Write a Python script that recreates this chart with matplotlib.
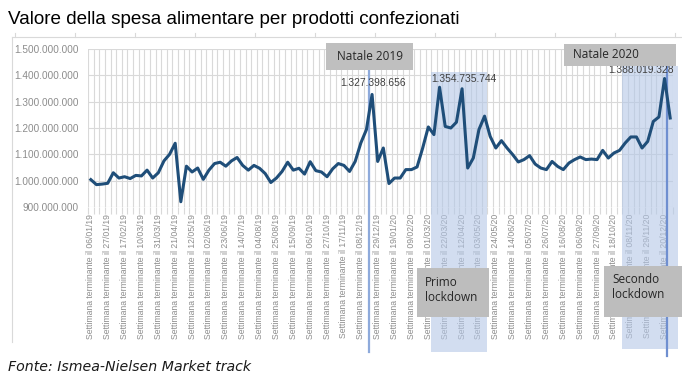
import matplotlib
matplotlib.use('Agg')
import matplotlib.pyplot as plt
import matplotlib.transforms as mtransforms
from matplotlib.patches import Rectangle
from matplotlib.lines import Line2D
from matplotlib.ticker import FuncFormatter, MultipleLocator
import pandas as pd

# weekly values (billions of euro), week ending 06/01/19 ... 27/12/20
weeks = pd.date_range('2019-01-06', periods=104, freq='7D')
values = [
    1.004, 0.985, 0.987, 0.990, 1.030, 1.010, 1.015, 1.008, 1.020, 1.018,
    1.040, 1.010, 1.030, 1.075, 1.100, 1.142, 0.920, 1.055, 1.033, 1.048,
    1.005, 1.040, 1.065, 1.070, 1.055, 1.075, 1.088, 1.058, 1.040, 1.058,
    1.047, 1.027, 0.993, 1.010, 1.035, 1.070, 1.040, 1.047, 1.025, 1.072,
    1.038, 1.033, 1.015, 1.045, 1.065, 1.058, 1.035, 1.073, 1.143, 1.194,
    1.327398656, 1.073, 1.124, 0.989, 1.010, 1.010, 1.042, 1.042, 1.052, 1.124,
    1.204, 1.175, 1.354735744, 1.206, 1.200, 1.222, 1.349, 1.048, 1.086, 1.194,
    1.245, 1.168, 1.124, 1.152, 1.124, 1.099, 1.071, 1.080, 1.095, 1.063,
    1.048, 1.042, 1.073, 1.054, 1.042, 1.067, 1.080, 1.090, 1.080, 1.082,
    1.080, 1.115, 1.086, 1.105, 1.115, 1.143, 1.166, 1.166, 1.124, 1.149,
    1.225, 1.242, 1.388019328, 1.238,
]
values = [v * 1e9 for v in values]
labels = ['Settimana terminante il ' + d.strftime('%d/%m/%y') for d in weeks]

peak_idx = [50, 62, 102]
peak_text = ['1.327.398.656', '1.354.735.744', '1.388.019.328']
peak_offset = [(1, 6), (24, 3), (-24, 3)]

lockdowns = [(60.5, 70.5, 'Primo\nlockdown'), (94.5, 104.3, 'Secondo\nlockdown')]
natale = [(49.5, 'Natale 2019'), (102.4, 'Natale 2020')]

W, H = 682, 381
fig = plt.figure(figsize=(W / 100, H / 100), dpi=100)

def fy(py):
    return 1 - py / H

def fx(px):
    return px / W

ax = fig.add_axes([fx(88), fy(207), 585 / W, 158 / H])
x = list(range(len(values)))
ax.plot(x, values, color='#1f4e79', lw=2.2, zorder=5, solid_joinstyle='round')

ax.set_xlim(-0.5, len(values) - 0.5)
ax.set_ylim(9e8, 1.5e9)
ax.yaxis.set_major_locator(MultipleLocator(1e8))
ax.yaxis.set_major_formatter(FuncFormatter(lambda v, p: f'{int(round(v)):,}'.replace(',', '.')))
ax.set_xticks(x[::3])
ax.set_xticklabels(labels[::3], rotation=90, fontsize=6.2, color='#8c8c8c',
                   family='Liberation Sans')
ax.set_xticks([i - 0.5 for i in range(len(values) + 1)], minor=True)
ax.tick_params(axis='x', which='major', length=0, pad=5)
ax.tick_params(axis='x', which='minor', length=5, color='#d9d9d9', width=0.8)
ax.tick_params(axis='y', length=0, pad=7, labelsize=7.2, labelcolor='#8c8c8c')
for t in ax.get_yticklabels():
    t.set_family('Liberation Sans')
ax.grid(axis='y', color='#d9d9d9', lw=0.8)
ax.grid(axis='x', which='minor', color='#d9d9d9', lw=0.8)
for s in ax.spines.values():
    s.set_visible(False)

blend = mtransforms.blended_transform_factory(ax.transData, fig.transFigure)

# lockdown label boxes (under the shading)
fig.patches.append(Rectangle((fx(417), fy(317)), 72 / W, 49 / H, transform=fig.transFigure,
                             facecolor='#bdbdbd', edgecolor='none', zorder=1))
fig.text(fx(425), fy(290), 'Primo\nlockdown', fontsize=8.5, family='Open Sans',
         color='#262626', va='center', ha='left', linespacing=1.2, zorder=2)
fig.patches.append(Rectangle((fx(604), fy(317)), 78 / W, 51 / H, transform=fig.transFigure,
                             facecolor='#bdbdbd', edgecolor='none', zorder=1))
fig.text(fx(612), fy(287), 'Secondo\nlockdown', fontsize=8.5, family='Open Sans',
         color='#262626', va='center', ha='left', linespacing=1.2, zorder=2)

# shaded lockdown periods
shade_top = [fy(72), fy(66)]
shade_bot = [fy(352), fy(349)]
for (a, b, _), top, bot in zip(lockdowns, shade_top, shade_bot):
    r = Rectangle((a, bot), b - a, top - bot, transform=blend, facecolor='#b4c7e7',
                  alpha=0.6, edgecolor='none', clip_on=False, zorder=3)
    ax.add_patch(r)

# Natale lines and boxes
line_top = [fy(70), fy(66)]
line_bot = [fy(352), fy(356)]
line_col = ['#8eaadb', '#6f8fd0']
for (pos, name), top, bot, c in zip(natale, line_top, line_bot, line_col):
    ax.add_line(Line2D([pos, pos], [bot, top], transform=blend, color=c, lw=1.6,
                       clip_on=False, zorder=4))

fig.patches.append(Rectangle((fx(326), fy(70)), 87 / W, 27 / H, transform=fig.transFigure,
                             facecolor='#bfbfbf', edgecolor='none', zorder=1))
fig.text(fx(370), fy(56), natale[0][1], fontsize=8.5, family='Open Sans', color='#262626',
         ha='center', va='center')
fig.patches.append(Rectangle((fx(564), fy(66)), 112 / W, 22 / H, transform=fig.transFigure,
                             facecolor='#bfbfbf', edgecolor='none', zorder=1))
fig.text(fx(573), fy(55), natale[1][1], fontsize=8.5, family='Open Sans', color='#262626',
         ha='left', va='center')

# data labels
for i, txt, off in zip(peak_idx, peak_text, peak_offset):
    ax.annotate(txt, (x[i], values[i]), xytext=off, textcoords='offset pixels',
                ha='center', va='bottom', fontsize=7.4, color='#404040',
                family='Liberation Sans', zorder=6, annotation_clip=False)

# faint outer frame of the original chart
fig.add_artist(Line2D([fx(12), fx(682)], [fy(37), fy(37)], color='#d9d9d9', lw=0.8))
fig.add_artist(Line2D([fx(12), fx(12)], [fy(37), fy(342)], color='#d9d9d9', lw=0.8))
for px in range(15, 682, 60):
    fig.add_artist(Line2D([fx(px), fx(px)], [fy(37), fy(33)], color='#d9d9d9', lw=0.8))

fig.text(fx(8), fy(19), 'Valore della spesa alimentare per prodotti confezionati',
         fontsize=13.6, family='Liberation Sans', color='black', va='center', ha='left')
fig.text(fx(8), fy(367), 'Fonte: Ismea-Nielsen Market track', fontsize=10.2,
         family='DejaVu Sans', style='italic', color='#1a1a1a', va='center', ha='left')

fig.savefig('out.png', dpi=100)
